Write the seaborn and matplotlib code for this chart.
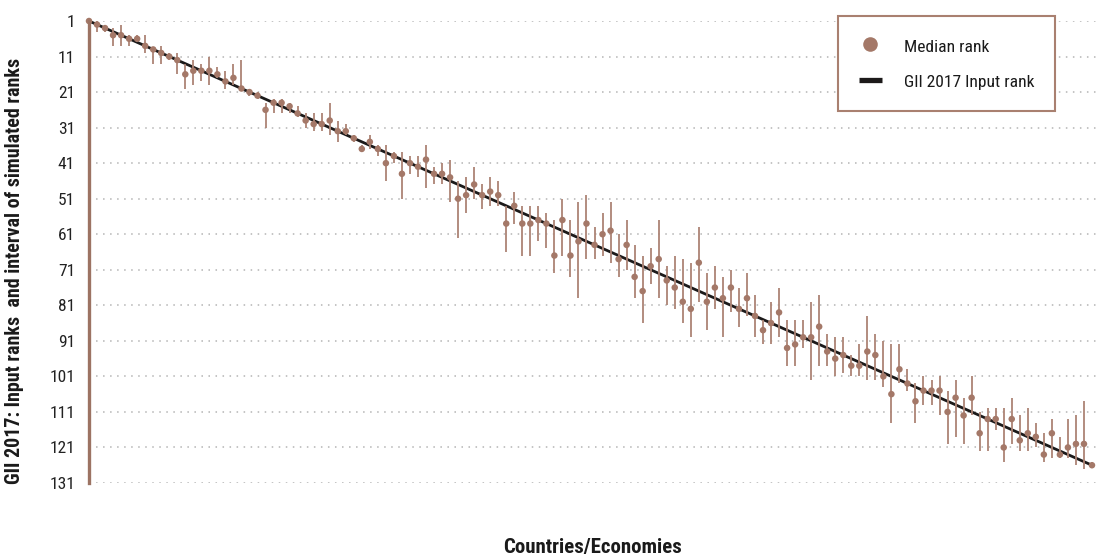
import os
import numpy as np
import pandas as pd
import matplotlib
matplotlib.use("Agg")
import matplotlib.pyplot as plt
import seaborn as sns
from matplotlib.lines import Line2D
from matplotlib import font_manager
from matplotlib.font_manager import FontProperties

# ---------------- data ----------------
median_rank = [1, 2, 3, 5, 5, 6, 6, 8, 9, 10, 11, 12, 16, 15, 15, 15, 16, 18, 17, 20,
               21, 22, 26, 24, 24, 25, 27, 29, 30, 30, 29, 32, 32, 34, 37, 35, 37, 41, 39, 44,
               41, 42, 40, 44, 44, 45, 51, 50, 47, 50, 49, 50, 58, 53, 58, 58, 57, 58, 67, 57,
               67, 63, 58, 64, 61, 60, 68, 64, 73, 77, 70, 68, 74, 76, 80, 82, 69, 80, 76, 79,
               76, 82, 79, 84, 88, 86, 83, 93, 92, 90, 90, 87, 94, 96, 95, 98, 98, 94, 95, 101,
               106, 99, 103, 108, 105, 105, 105, 111, 107, 112, 107, 117, 113, 113, 121, 113, 119, 117, 118, 123,
               117, 123, 121, 120, 120, 126]
interval_low = [1, 1, 2, 3, 2, 5, 5, 5, 9, 8, 10, 10, 13, 12, 13, 11, 14, 15, 13, 12,
                20, 21, 24, 23, 23, 24, 25, 27, 27, 27, 24, 29, 30, 33, 36, 33, 36, 36, 38, 38,
                39, 39, 36, 42, 41, 40, 46, 45, 42, 47, 45, 46, 53, 49, 53, 53, 53, 55, 57, 51,
                57, 52, 50, 59, 55, 52, 61, 57, 64, 67, 65, 57, 70, 67, 68, 69, 59, 72, 70, 73,
                71, 76, 72, 78, 85, 80, 76, 85, 85, 85, 80, 78, 89, 90, 90, 95, 92, 84, 89, 91,
                92, 92, 99, 103, 101, 102, 101, 105, 102, 107, 101, 111, 110, 110, 110, 107, 112, 110, 114, 117,
                113, 118, 113, 112, 108, 125]
interval_high = [1, 4, 4, 8, 8, 8, 7, 10, 13, 13, 12, 16, 20, 19, 18, 19, 17, 20, 19, 20,
                 22, 23, 31, 27, 27, 27, 28, 31, 32, 32, 33, 35, 33, 35, 38, 37, 39, 46, 41, 51,
                 44, 45, 48, 47, 47, 52, 62, 55, 51, 54, 53, 53, 66, 58, 67, 67, 63, 65, 72, 67,
                 73, 79, 68, 68, 67, 69, 73, 71, 79, 86, 75, 79, 81, 82, 86, 90, 80, 88, 82, 90,
                 83, 87, 84, 90, 92, 92, 90, 98, 98, 93, 102, 98, 98, 101, 100, 101, 101, 102, 102, 104,
                 114, 103, 105, 114, 109, 109, 112, 120, 118, 120, 112, 122, 122, 116, 125, 120, 122, 122, 121, 125,
                 124, 124, 124, 126, 127, 126]
input_rank = [1, 2, 3, 4, 5, 6, 7, 8, 9, 10, 11, 12, 13, 14, 15, 16, 17, 18, 19, 20,
              21, 22, 23, 24, 25, 26, 27, 28, 29, 30, 31, 32, 33, 34, 35, 36, 37, 38, 39, 40,
              41, 42, 43, 44, 45, 46, 47, 48, 49, 50, 51, 52, 53, 54, 55, 56, 57, 58, 59, 60,
              61, 62, 63, 64, 65, 66, 67, 68, 69, 70, 71, 72, 73, 74, 75, 76, 77, 78, 79, 80,
              81, 82, 83, 84, 85, 86, 87, 88, 89, 90, 91, 92, 93, 94, 95, 96, 97, 98, 99, 100,
              101, 102, 103, 104, 105, 106, 107, 108, 109, 110, 111, 112, 113, 114, 115, 116, 117, 118, 119, 120,
              121, 122, 123, 124, 125, 126]
y_ticks = [1, 11, 21, 31, 41, 51, 61, 71, 81, 91, 101, 111, 121, 131]
legend_labels = ["Median rank", "GII 2017 Input rank"]
y_title = "GII 2017: Input ranks  and interval of simulated ranks"
x_title = "Countries/Economies"

# ---------------- style ----------------
sns.set_theme(style="white")
plt.rcParams["font.family"] = ["DejaVu Sans"]


def pick_font(bold):
    prefs = ["liberation sans narrow", "roboto condensed", "open sans condensed",
             "noto sans condensed", "dejavu sans condensed", "dejavu sans"]
    cands = []
    for f in font_manager.fontManager.ttflist:
        fn = os.path.basename(f.fname).lower()
        cond = (f.stretch in ("condensed", "semi-condensed", "extra-condensed")
                or "narrow" in fn or "condensed" in fn)
        if not cond or f.style != "normal":
            continue
        w = f.weight if isinstance(f.weight, int) else (700 if "bold" in str(f.weight) else 400)
        if bold and w < 600:
            continue
        if not bold and (w < 350 or w > 500):
            continue
        name = f.name.lower()
        if "narrow" in fn and "narrow" not in name:
            name += " narrow"
        if "condensed" in fn and "condensed" not in name:
            name += " condensed"
        rank = len(prefs)
        for i, p in enumerate(prefs):
            if name.startswith(p):
                rank = i
                break
        cands.append((rank, abs(w - (700 if bold else 400)), f.fname))
    if cands:
        cands.sort()
        return FontProperties(fname=cands[0][2])
    return FontProperties(family="DejaVu Sans", weight="bold" if bold else "normal")


FREG = pick_font(False)
FBOLD = pick_font(True)


def fp(base, size):
    p = base.copy()
    p.set_size(size)
    return p


PT = "#a47868"
BAR = "#ad8475"
LINE = "#1c1a1a"

df = pd.DataFrame({
    "economy": np.arange(1, len(median_rank) + 1),
    "median": median_rank,
    "low": interval_low,
    "high": interval_high,
    "input": input_rank,
})

W, H = 1096, 558
fig = plt.figure(figsize=(W / 100, H / 100), dpi=100)
ax = fig.add_axes([89 / W, 1 - 483 / H, (1096 - 89) / W, (483 - 21) / H])

ax.vlines(df["economy"], df["low"], df["high"], color=BAR, lw=1.3, zorder=3)
sns.lineplot(data=df, x="economy", y="input", color=LINE, lw=2.0, ax=ax, zorder=2)
sns.scatterplot(data=df, x="economy", y="median", color=PT, s=22, edgecolor="none",
                ax=ax, zorder=4, clip_on=False)

ax.set_xlim(1, 126.5)
ax.set_ylim(131, 1)
ax.set_yticks(y_ticks)
ax.set_yticklabels([str(t) for t in y_ticks])
for lab in ax.get_yticklabels():
    lab.set_fontproperties(fp(FREG, 12.5))
    lab.set_color("#222222")
ax.set_xticks([])
ax.set_xlabel("")
ax.set_ylabel("")
ax.tick_params(axis="y", length=0, pad=10)
ax.grid(axis="y", linestyle=(0, (1, 3.6)), color="#b4b4b4", lw=1.1)
ax.set_axisbelow(True)
for s in ["top", "right", "bottom"]:
    ax.spines[s].set_visible(False)
ax.spines["left"].set_color("#9c7363")
ax.spines["left"].set_linewidth(2.4)
ax.spines["left"].set_zorder(5)

fig.text(15 / W, 1 - 271 / H, y_title, rotation=90, ha="center", va="center",
         fontproperties=fp(FBOLD, 14.4), color="#1a1a1a")
fig.text(592 / W, 1 - 547 / H, x_title, ha="center", va="center",
         fontproperties=fp(FBOLD, 15), color="#1a1a1a")

handles = [
    Line2D([], [], marker="o", ls="none", markersize=10.5, color=PT, markeredgecolor="none"),
    Line2D([], [], color=LINE, lw=3.8, solid_capstyle="butt"),
]
leg = ax.legend(handles, legend_labels, loc="upper left",
                bbox_to_anchor=(838 / W, 1 - 16 / H), bbox_transform=fig.transFigure,
                frameon=True, fancybox=False, edgecolor="#a98070", facecolor="white",
                framealpha=1, borderpad=1.2, labelspacing=1.0, handlelength=1.3,
                handleheight=1.2, handletextpad=1.25, borderaxespad=0,
                prop=fp(FREG, 12.6))
leg.get_frame().set_linewidth(1.5)
for t in leg.get_texts():
    t.set_color("#1a1a1a")

fig.savefig("out.png", dpi=100)
